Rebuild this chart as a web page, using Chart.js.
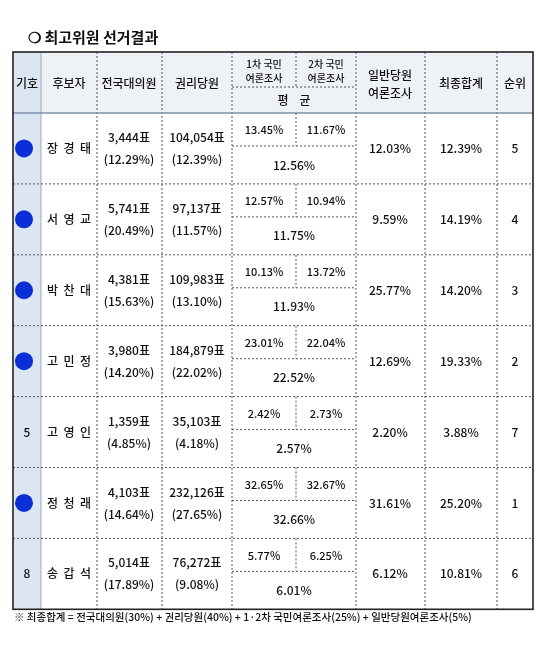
<!DOCTYPE html>
<html><head><meta charset="utf-8">
<script src="https://cdn.jsdelivr.net/npm/chart.js@4"></script>
<style>body{margin:0;background:#fff}</style>
</head><body>
<canvas id="c" width="538" height="658"></canvas>
<script>
const symbols = ['', '', '', '', '5', '', '8'];
const redacted = [0, 1, 2, 3, 5];
const names = ['장  경  태', '서  영  교', '박  찬  대', '고  민  정', '고  영  인', '정  청  래', '송  갑  석'];
const delegates = ['3,444표', '5,741표', '4,381표', '3,980표', '1,359표', '4,103표', '5,014표'];
const delegatePct = ['(12.29%)', '(20.49%)', '(15.63%)', '(14.20%)', '(4.85%)', '(14.64%)', '(17.89%)'];
const members = ['104,054표', '97,137표', '109,983표', '184,879표', '35,103표', '232,126표', '76,272표'];
const memberPct = ['(12.39%)', '(11.57%)', '(13.10%)', '(22.02%)', '(4.18%)', '(27.65%)', '(9.08%)'];
const poll1 = ['13.45%', '12.57%', '10.13%', '23.01%', '2.42%', '32.65%', '5.77%'];
const poll2 = ['11.67%', '10.94%', '13.72%', '22.04%', '2.73%', '32.67%', '6.25%'];
const pollAvg = ['12.56%', '11.75%', '11.93%', '22.52%', '2.57%', '32.66%', '6.01%'];
const general = ['12.03%', '9.59%', '25.77%', '12.69%', '2.20%', '31.61%', '6.12%'];
const total = ['12.39%', '14.19%', '14.20%', '19.33%', '3.88%', '25.20%', '10.81%'];
const rank = ['5', '4', '3', '2', '7', '1', '6'];

const colX = [13, 41, 97, 162, 232, 296, 356, 425, 497, 533];
const top0 = 52, headBot = 113, rowH = 70.9;
const rowTop = i => headBot + i * rowH;
const font = '"Noto Sans CJK KR", "Noto Sans", sans-serif';

const tablePlugin = {
  id: 'table',
  beforeDatasetsDraw(chart) {
    const c = chart.ctx, xs = chart.scales.x, ys = chart.scales.y;
    const X = v => xs.getPixelForValue(v), Y = v => ys.getPixelForValue(v);
    const bottom = rowTop(names.length);
    c.save();
    c.fillStyle = '#eef1f6';
    c.fillRect(X(13), Y(top0), X(533) - X(13), Y(headBot) - Y(top0));
    c.fillStyle = '#dce5f2';
    c.fillRect(X(13), Y(top0), X(41) - X(13), Y(bottom) - Y(top0));
    const line = (x1, y1, x2, y2, dash, color, w) => {
      c.beginPath(); c.setLineDash(dash); c.strokeStyle = color; c.lineWidth = w;
      c.moveTo(X(x1), Y(y1)); c.lineTo(X(x2), Y(y2)); c.stroke();
    };
    for (let k = 1; k < colX.length - 1; k++) {
      if (k === 5) continue;
      line(colX[k], top0, colX[k], bottom, k === 1 ? [] : [2, 2], k === 1 ? '#9aa7bb' : '#555', 1);
    }
    line(296, top0, 296, 87, [2, 2], '#555', 1);
    line(232, 87, 356, 87, [2, 2], '#555', 1);
    for (let i = 0; i < names.length; i++) {
      const t = rowTop(i);
      line(296, t, 296, t + 33, [2, 2], '#555', 1);
      line(232, t + 33, 356, t + 33, [2, 2], '#555', 1);
      if (i > 0) line(13, t, 533, t, [2, 2], '#555', 1);
    }
    line(13, headBot, 533, headBot, [], '#8090a8', 1.5);
    c.setLineDash([]); c.strokeStyle = '#222'; c.lineWidth = 1.6;
    c.strokeRect(X(13), Y(top0), X(533) - X(13), Y(bottom) - Y(top0));

    const txt = (s, x, y, size, weight, align) => {
      c.font = (weight || '500') + ' ' + size + 'px ' + font;
      c.fillStyle = '#111'; c.textAlign = align || 'center'; c.textBaseline = 'middle';
      c.fillText(s, X(x), Y(y));
    };
    txt('❍ 최고위원 선거결과', 28, 37, 15, 'bold', 'left');
    txt('기호', 27, 83, 12); txt('후보자', 69, 83, 12); txt('전국대의원', 129, 83, 12);
    txt('권리당원', 197, 83, 12);
    txt('1차 국민', 264, 64, 10); txt('여론조사', 264, 78, 10);
    txt('2차 국민', 326, 64, 10); txt('여론조사', 326, 78, 10);
    txt('평    균', 294, 100, 12);
    txt('일반당원', 390, 75, 12); txt('여론조사', 390, 93, 12);
    txt('최종합계', 461, 83, 12); txt('순위', 515, 83, 12);
    for (let i = 0; i < names.length; i++) {
      const t = rowTop(i), m = t + rowH / 2;
      txt(symbols[i], 27, m, 12);
      txt(names[i], 69, m, 12);
      txt(delegates[i], 129, m - 11, 12); txt(delegatePct[i], 129, m + 11, 12);
      txt(members[i], 197, m - 11, 12); txt(memberPct[i], 197, m + 11, 12);
      txt(poll1[i], 264, t + 17, 11); txt(poll2[i], 326, t + 17, 11);
      txt(pollAvg[i], 294, t + 52, 12);
      txt(general[i], 390, m, 12); txt(total[i], 461, m, 12); txt(rank[i], 515, m, 12);
    }
    txt('※ 최종합계 = 전국대의원(30%) + 권리당원(40%) + 1·2차 국민여론조사(25%) + 일반당원여론조사(5%)', 14, 617, 10.5, '500', 'left');
    c.restore();
  }
};

const dots = redacted.map(i => ({ x: 24, y: rowTop(i) + rowH / 2 }));

new Chart(document.getElementById('c'), {
  type: 'scatter',
  data: { datasets: [{ data: dots, pointRadius: 9, pointBackgroundColor: '#0a2fd6', pointBorderWidth: 0, clip: false }] },
  options: {
    responsive: false, animation: false,
    layout: { padding: 0, autoPadding: false },
    plugins: { legend: { display: false }, tooltip: { enabled: false } },
    scales: {
      x: { type: 'linear', min: 0, max: 538, display: false },
      y: { type: 'linear', min: 0, max: 658, reverse: true, display: false }
    }
  },
  plugins: [tablePlugin]
});
</script>
</body></html>
